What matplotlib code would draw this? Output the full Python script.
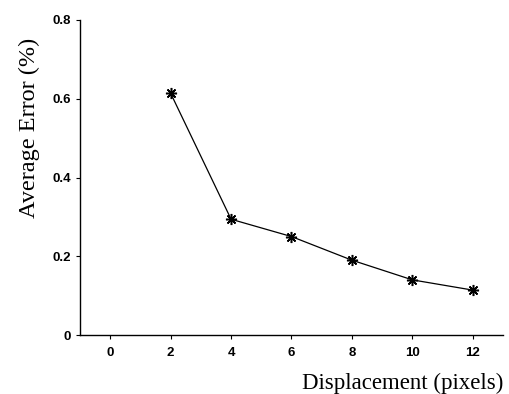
import matplotlib
matplotlib.use("Agg")
import matplotlib.pyplot as plt

displacement = [2, 4, 6, 8, 10, 12]
avg_error = [0.614, 0.294, 0.250, 0.190, 0.140, 0.114]
x_ticks = [0, 2, 4, 6, 8, 10, 12]
y_ticks = [0, 0.2, 0.4, 0.6, 0.8]
y_tick_labels = ["0", "0.2", "0.4", "0.6", "0.8"]

fig = plt.figure(figsize=(5.10, 3.94), dpi=100)
ax = fig.add_axes([80/510, 1-335/394, (503-80)/510, (335-20)/394])

ax.plot(displacement, avg_error, color="black", linewidth=0.9,
        marker=(8, 2, 0), markersize=8, markeredgewidth=1.1,
        markeredgecolor="black", markerfacecolor="black")

ax.set_xlim(-1, 13)
ax.set_ylim(0, 0.8)
ax.set_xticks(x_ticks)
ax.set_yticks(y_ticks)
ax.set_yticklabels(y_tick_labels)
for s in ("top", "right"):
    ax.spines[s].set_visible(False)
for s in ("left", "bottom"):
    ax.spines[s].set_linewidth(1.0)
ax.tick_params(axis="y", direction="out", length=3, width=0.8, pad=3.5)
ax.tick_params(axis="x", direction="out", length=3, width=0.8, pad=5.5)
for lab in ax.get_xticklabels() + ax.get_yticklabels():
    lab.set_fontfamily("Liberation Sans")
    lab.set_fontweight("bold")
    lab.set_fontsize(9.5)

fig.text(503/510, 1-389/394, "Displacement (pixels)", ha="right", va="baseline",
         fontfamily="Liberation Serif", fontsize=16.5)
fig.text(29/510, 1-127.5/394, "Average Error (%)", ha="center", va="center",
         rotation=90, fontfamily="Liberation Serif", fontsize=17.5)

fig.savefig("out.png", dpi=100)
